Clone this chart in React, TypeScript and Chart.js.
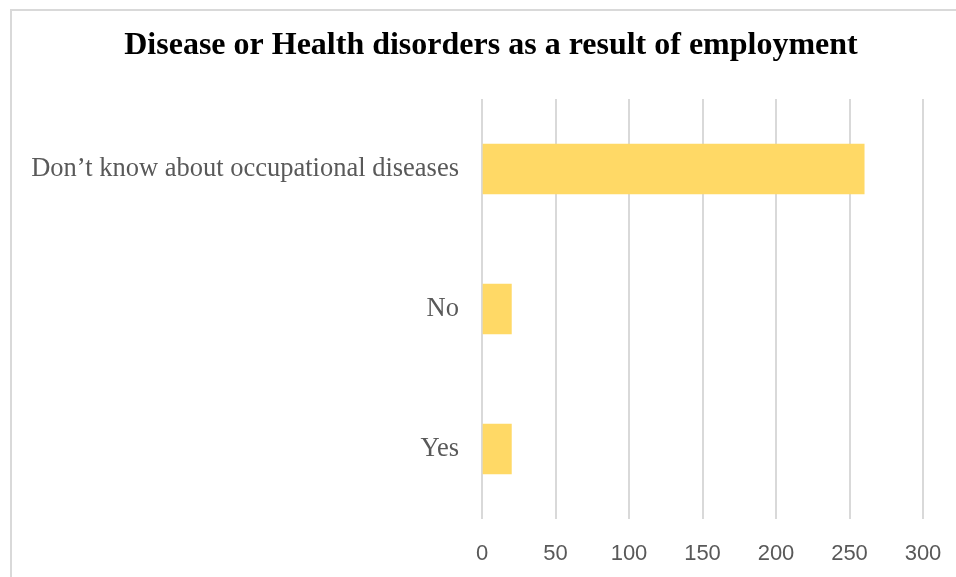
import React, { useEffect, useRef } from "react";
import { Chart, registerables } from "chart.js";

Chart.register(...registerables);

const chartTitle = "Disease or Health disorders as a result of employment";
const categories = ["Don\u2019t know about occupational diseases", "No", "Yes"];
const counts = [260, 20, 20];
const xMin = 0;
const xMax = 300;
const xStep = 50;

const titlePlugin = {
  id: "customTitle",
  afterDraw(chart: any) {
    const ctx = chart.ctx;
    ctx.save();
    ctx.font = "bold 32px 'Liberation Serif', 'Times New Roman', serif";
    ctx.fillStyle = "#000000";
    ctx.textAlign = "center";
    ctx.textBaseline = "alphabetic";
    ctx.fillText(chartTitle, 491, 54);
    ctx.restore();
  },
};

export default function App() {
  const canvasRef = useRef<HTMLCanvasElement | null>(null);

  useEffect(() => {
    document.body.style.margin = "0";
    const canvas = canvasRef.current;
    if (!canvas) return;
    const chart = new Chart(canvas, {
      type: "bar",
      data: {
        labels: categories,
        datasets: [
          {
            data: counts,
            backgroundColor: "#FFD966",
            borderWidth: 0,
            barThickness: 50,
          },
        ],
      },
      options: {
        indexAxis: "y",
        animation: false,
        responsive: false,
        maintainAspectRatio: false,
        layout: { padding: { top: 99, right: 33, left: 0, bottom: 0 } },
        plugins: {
          legend: { display: false },
          title: { display: false },
          tooltip: { enabled: false },
        },
        scales: {
          x: {
            min: xMin,
            max: xMax,
            ticks: {
              stepSize: xStep,
              color: "#595959",
              padding: 22,
              font: { family: "'Liberation Sans Narrow', 'Liberation Sans', sans-serif", size: 22 },
            },
            grid: { color: "#d9d9d9", lineWidth: 2, drawTicks: false },
            border: { display: false },
            afterFit(scale: any) {
              scale.height = 58;
              scale.paddingLeft = 0;
              scale.paddingRight = 0;
            },
          },
          y: {
            ticks: {
              color: "#595959",
              padding: 23,
              font: { family: "'Liberation Serif', 'Times New Roman', serif", size: 26.5 },
            },
            grid: { display: false, drawTicks: false },
            border: { display: false },
            afterFit(scale: any) {
              scale.width = 482;
              scale.paddingTop = 0;
              scale.paddingBottom = 0;
            },
          },
        },
      },
      plugins: [titlePlugin],
    });
    return () => chart.destroy();
  }, []);

  return (
    <div style={{ position: "relative", width: 956, height: 577, overflow: "hidden", background: "#fff" }}>
      <div
        style={{
          position: "absolute",
          left: 10,
          top: 9,
          width: 1200,
          height: 1200,
          border: "2px solid #d9d9d9",
          boxSizing: "border-box",
        }}
      />
      <canvas ref={canvasRef} width={956} height={577} style={{ position: "absolute", left: 0, top: 0 }} />
    </div>
  );
}
